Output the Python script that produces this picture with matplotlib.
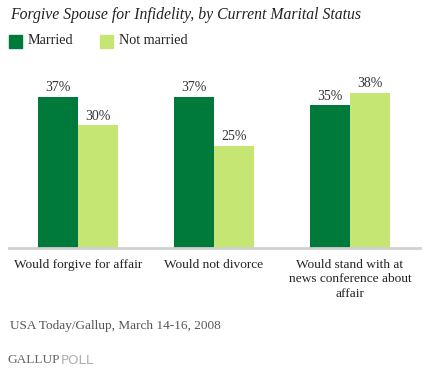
import numpy as np
import matplotlib.pyplot as plt
from matplotlib.patches import Rectangle

categories = ["Would forgive for affair", "Would not divorce",
              "Would stand with at\nnews conference about\naffair"]
married = [37, 37, 35]
not_married = [30, 25, 38]
series_names = ["Married", "Not married"]

dark = "#007A3A"
light = "#C6E674"
serif = "Liberation Serif"

fig = plt.figure(figsize=(4.26, 3.71), dpi=100)
W, H = 426, 371

# chart area: baseline at y=248 px, left 9, right 420
ax = fig.add_axes([9 / W, 1 - 248 / H, 411 / W, 188 / H])
x = np.arange(len(categories))
w = 0.294
ax.bar(x - w / 2, married, w, color=dark, edgecolor="none")
ax.bar(x + w / 2, not_married, w, color=light, edgecolor="none")
ax.set_xlim(-0.507, 2.515)
ax.set_ylim(0, 46)

for xi, v in zip(x - w / 2, married):
    ax.text(xi, v + 0.6, f"{v}%", ha="center", va="bottom",
            fontsize=10, family=serif, color="#333333")
for xi, v in zip(x + w / 2, not_married):
    ax.text(xi, v + 0.6, f"{v}%", ha="center", va="bottom",
            fontsize=10, family=serif, color="#333333")

for s in ["top", "right", "left"]:
    ax.spines[s].set_visible(False)
ax.spines["bottom"].set_color("#D0D0D0")
ax.spines["bottom"].set_linewidth(2)
ax.set_yticks([])
ax.set_xticks(x)
ax.set_xticklabels(categories, fontsize=9.6, family=serif, color="#222222",
                   linespacing=1.25)
ax.tick_params(axis="x", length=0, pad=8)

# title
fig.text(10 / W, 1 - 15 / H, "Forgive Spouse for Infidelity, by Current Marital Status",
         fontsize=11.3, family=serif, style="italic", color="#222222", va="center")

# legend
for sx, name in zip([9, 100], series_names):
    c = dark if name == "Married" else light
    fig.patches.append(Rectangle((sx / W, 1 - 48 / H), 13 / W, 13 / H,
                                 transform=fig.transFigure, color=c))
    fig.text((sx + 19) / W, 1 - 41 / H, name, fontsize=10.2, family=serif,
             color="#222222", va="center")

# source
fig.text(10 / W, 1 - 326 / H, "USA Today/Gallup, March 14-16, 2008",
         fontsize=9.5, family=serif, color="#555555", va="center")
g = fig.text(7 / W, 1 - 360 / H, "GALLUP", fontsize=9.6, family=serif,
             color="#666666", va="center")
fig.canvas.draw()
bb = g.get_window_extent()
fig.text(bb.x1 / W + 1 / W, 1 - 360 / H, "POLL", fontsize=9.6,
         family="DejaVu Sans", color="#B0B0B0", va="center")

fig.savefig("out.png", dpi=100)
